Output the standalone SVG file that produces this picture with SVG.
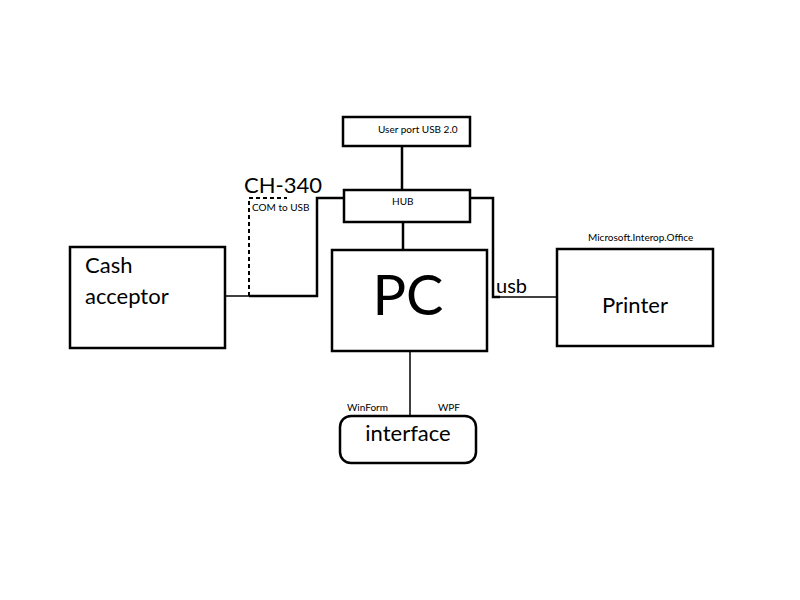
<svg xmlns="http://www.w3.org/2000/svg" width="800" height="600" viewBox="0 0 800 600">
<style>
.box{fill:#fff;stroke:#000;stroke-width:2.5}
.t{font-family:Lato,"Open Sans","Liberation Sans",sans-serif;fill:#000}
.s{font-size:10px}
.conn{fill:none;stroke:#000;stroke-width:2.5}
.thin{fill:none;stroke:#000;stroke-width:1.5}
.dash{fill:none;stroke:#000;stroke-width:2;stroke-dasharray:4 3}
</style>
<rect width="800" height="600" fill="#fff"/>
<g id="connectors">
<line class="conn" x1="402" y1="146" x2="402" y2="190"/>
<line class="conn" x1="403" y1="222" x2="403" y2="250"/>
<polyline class="conn" points="344,198 317,198 317,296 249,296"/>
<line class="thin" x1="225" y1="296" x2="249" y2="296"/>
<polyline class="dash" points="249,296 249,198 287,198"/>
<polyline class="conn" points="470,198 493,198 493,297 500,297"/>
<line class="thin" x1="500" y1="297" x2="557" y2="297"/>
<line class="thin" x1="410" y1="351" x2="410" y2="416"/>
</g>
<g id="userport">
<rect class="box" x="343" y="117" width="127" height="29"/>
<text class="t s" x="378" y="133">User port USB 2.0</text>
</g>
<g id="hub">
<rect class="box" x="344" y="190" width="126" height="32"/>
<text class="t s" x="392" y="205">HUB</text>
</g>
<g id="pc">
<rect class="box" x="332" y="250" width="155" height="101"/>
<text class="t" x="408" y="315" font-size="56" text-anchor="middle">PC</text>
</g>
<g id="cash">
<rect class="box" x="70" y="247" width="155" height="101"/>
<text class="t" x="85" y="273" font-size="22">Cash</text>
<text class="t" x="85" y="304" font-size="22">acceptor</text>
</g>
<g id="ch340">
<text class="t" x="244" y="193" font-size="22">CH-340</text>
<text class="t s" x="252" y="211">COM to USB</text>
</g>
<g id="printer">
<rect class="box" x="557" y="249" width="156" height="97"/>
<text class="t" x="635" y="313" font-size="22" text-anchor="middle">Printer</text>
<text class="t s" x="588" y="241">Microsoft.Interop.Office</text>
</g>
<text class="t" x="496" y="293" font-size="20">usb</text>
<g id="interface">
<rect class="box" x="340" y="416" width="136" height="47" rx="11"/>
<text class="t" x="408" y="441" font-size="22" text-anchor="middle">interface</text>
<text class="t s" x="347" y="411">WinForm</text>
<text class="t s" x="438" y="411">WPF</text>
</g>
</svg>
